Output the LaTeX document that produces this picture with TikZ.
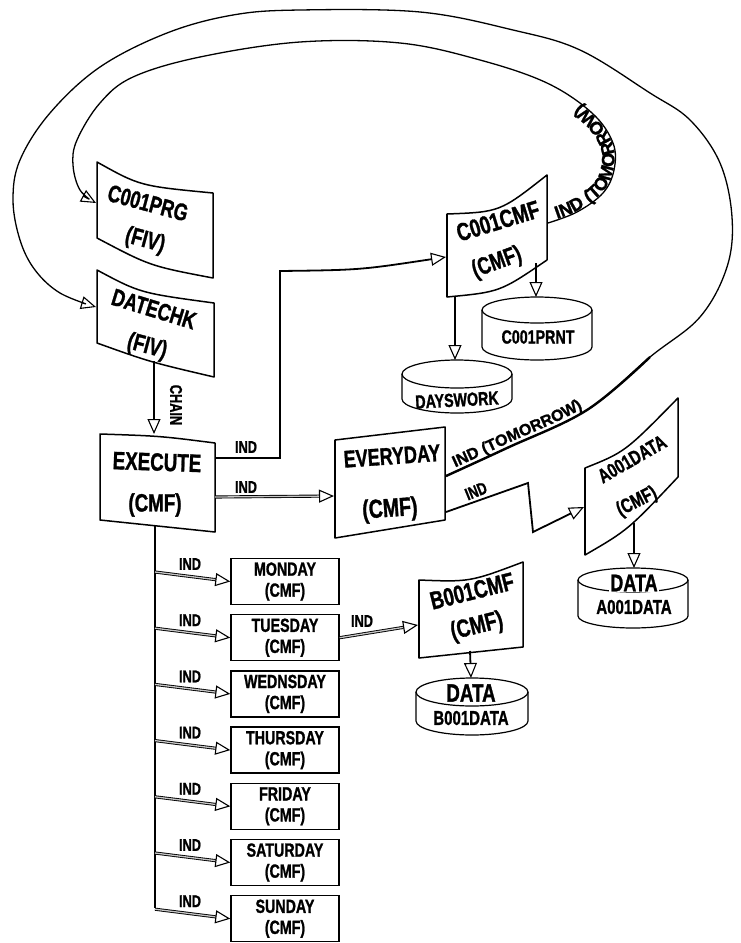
\documentclass[tikz,border=0pt]{standalone}
\usepackage{fontspec}
\setmainfont{Liberation Sans}[BoldFeatures={FakeBold=1.4}]
\newfontfamily\plainfont{Liberation Sans}[BoldFeatures={FakeBold=1.2}]
\usetikzlibrary{arrows.meta,decorations.text}
\newcommand\cond[1]{\scalebox{0.75}[1]{#1}}
\newcommand\diskshape[5]{%
  \draw[line width=1.2pt] (#1,#2) ellipse [x radius=#3pt, y radius=#4pt];
  \draw[line width=1.2pt] (#1-#3,#2) -- (#1-#3,#2+#5) arc[start angle=180,end angle=360,x radius=#3pt,y radius=#4pt] -- (#1+#3,#2);
}
\begin{document}
\begin{tikzpicture}[x=1pt,y=-1pt,
  >={Triangle[open,length=15pt,width=13pt,line width=1.1pt]},
  box/.style={line width=1.5pt,line join=round},
  thickedge/.style={line width=2.8pt},
  lbl/.style={font=\bfseries\fontsize{#1}{#1}\selectfont,inner sep=0pt},
  conn/.style={line width=1.8pt},
  hatch/.style={line width=0.9pt,double=gray!45,double distance=1.3pt},
  curve/.style={line width=1.3pt},
  daybox/.style={draw,line width=1.4pt,minimum width=108pt,minimum height=46pt,align=center,inner sep=0pt,font=\bfseries\fontsize{19}{21}\selectfont},
]
\useasboundingbox (0,0) rectangle (740,943);

% ---------- C001PRG ----------
\draw[box] (97,162) .. controls (140,186) .. (213,193) -- (213,278) .. controls (150,266) .. (97,238) -- cycle;
\node[lbl=24,rotate=-15] (prgname) at (148,203) {\cond{C001PRG}};
\node[lbl=24,rotate=-15] (prgtype) at (145,241) {\cond{(FIV)}};
\coordinate (p-w) at (96,203);

% ---------- DATECHK ----------
\draw[box] (97,270) .. controls (140,293) .. (214,303) -- (214,377) .. controls (150,362) .. (97,343) -- cycle;
\node[lbl=24,rotate=-17] (dcname) at (154,309) {\cond{DATECHK}};
\node[lbl=24,rotate=-15] (dctype) at (147,347) {\cond{(FIV)}};
\coordinate (dc-w) at (96,307);
\coordinate (dc-s) at (154,361);

% ---------- EXECUTE ----------
\draw[box] (100,434) .. controls (160,436) .. (215,443) -- (215,532) -- (100,520) -- cycle;
\node[lbl=25,rotate=-2] (exname) at (157,462) {\cond{EXECUTE}};
\node[lbl=25] (extype) at (155,505) {\cond{(CMF)}};
\coordinate (ex-n) at (154,434);
\coordinate (ex-e1) at (215,458);
\coordinate (ex-e2) at (215,497);
\coordinate (ex-s) at (155,526);
\coordinate (trunk-end) at (155,908);

% ---------- EVERYDAY ----------
\draw[box] (335,440) -- (445,427) -- (445,520) -- (335,538) -- cycle;
\draw[thickedge] (335,440) -- (335,538);
\node[lbl=24,rotate=4] (evname) at (392,456) {\cond{EVERYDAY}};
\node[lbl=26,rotate=4] (evtype) at (390,510) {\cond{(CMF)}};
\coordinate (ev-w) at (334,496);
\coordinate (ev-e1) at (446,476);
\coordinate (ev-e2) at (446,512);

% ---------- C001CMF ----------
\draw[box] (447,214) .. controls (500,212) .. (547,175) -- (547,260) .. controls (500,292) .. (447,297) -- cycle;
\draw[thickedge] (447,214) -- (447,297);
\node[lbl=25,rotate=17] (cmname) at (498,221) {\cond{C001CMF}};
\node[lbl=24,rotate=20] (cmtype) at (497,263) {\cond{(CMF)}};
\coordinate (cm-w) at (446,257);
\coordinate (cm-e) at (548,223);
\coordinate (cm-s1) at (455,296);
\coordinate (cm-s2) at (536,263);

% ---------- A001DATA ----------
\draw[box] (585,468) .. controls (625,452) .. (678,398) -- (678,477) .. controls (628,530) .. (585,555) -- cycle;
\draw[thickedge] (585,468) -- (585,555);
\node[lbl=20,rotate=30] (a1name) at (632,459) {\cond{A001DATA}};
\node[lbl=20,rotate=27] (a1type) at (637,502) {\cond{(CMF)}};
\coordinate (a1-w) at (584,507);
\coordinate (a1-s) at (634,523);

% ---------- B001CMF ----------
\draw[box] (419,580) .. controls (470,582) .. (523,562) -- (523,647) -- (419,658) -- cycle;
\draw[thickedge] (419,580) -- (419,658);
\node[lbl=25,rotate=14] (b1name) at (472,591) {\cond{B001CMF}};
\node[lbl=25,rotate=14] (b1type) at (477,627) {\cond{(CMF)}};
\coordinate (b1-w) at (418,625);
\coordinate (b1-s) at (470,651);

% ---------- disks ----------
\diskshape{457}{374}{55}{14}{25}
\node[lbl=19,rotate=3] (daysw) at (457,400) {\cond{DAYSWORK}};
\coordinate (daysw-n) at (455,360);

\diskshape{537}{310}{55}{13}{37}
\node[lbl=19] (prnt) at (538,337) {\cond{C001PRNT}};
\coordinate (prnt-n) at (536,297);

\diskshape{633}{580}{55}{12}{36}
\node[lbl=24,fill=white,inner sep=1pt] (adata) at (634,583) {\cond{DATA}};
\node[lbl=20] (aname) at (634,607) {\cond{A001DATA}};
\coordinate (ad-n) at (634,568);

\diskshape{472}{692}{56}{14}{29}
\node[lbl=25,fill=white,inner sep=1pt] (bdata) at (471,693) {\cond{DATA}};
\node[lbl=20] (bname) at (471,718) {\cond{B001DATA}};
\coordinate (bd-n) at (471,678);

% ---------- day boxes ----------
\draw[conn] (ex-s) -- (trunk-end);
\foreach \dayname [count=\i from 0] in {MONDAY,TUESDAY,WEDNSDAY,THURSDAY,FRIDAY,SATURDAY,SUNDAY}{
  \pgfmathsetmacro\T{558+56.2*\i}
  \node[daybox] (day\i) at (285,\T+23.5) {\cond{\dayname}\\\cond{(CMF)}};
  \coordinate (br\i) at (155,\T+14);
  \draw[hatch,->] (br\i) -- (day\i.west);
  \node[lbl=17] (ind\i) at (190,\T+6) {\cond{IND}};
}

% ---------- connectors ----------
\draw[conn,->] (dc-s) -- (ex-n);
\node[lbl=17,rotate=-90] (chain) at (176,405) {\cond{CHAIN}};

\draw[conn,->] (ex-e1) -- (280,458) -- (280,271) .. controls (360,270) .. (cm-w);
\node[lbl=17] (indx1) at (246,447) {\cond{IND}};

\draw[hatch,->] (ex-e2) -- (ev-w);
\node[lbl=17] (indx2) at (246,487) {\cond{IND}};

\draw[conn,->] (ev-e2) -- (528,483) -- (533,532) -- (a1-w);
\node[lbl=17,rotate=22] (indz) at (476,491) {\cond{IND}};

\draw[conn,->] (a1-s) -- (ad-n);
\draw[conn,->] (cm-s1) -- (daysw-n);
\draw[conn,->] (cm-s2) -- (prnt-n);

\draw[hatch,->] (day1.east) -- (b1-w);
\node[lbl=17] (indt) at (362,621) {\cond{IND}};
\draw[conn,->] (b1-s) -- (bd-n);

% ---------- outer loop: EVERYDAY -> DATECHK ----------
\draw[curve,->] plot[smooth,tension=0.6] coordinates {(ev-e1) (507,448) (587,410) (650,357) (700,317) (727,267) (732,217) (720,163) (690,120) (650,93) (580,50) (513,30) (420,12) (300,10) (233,15) (167,33) (100,67) (50,113) (20,160) (13,200) (20,240) (35,270) (60,293) (dc-w)};
\draw[line width=2.4pt] plot[smooth,tension=0.6] coordinates {(ev-e1) (507,448) (587,410) (650,357)};
\path[decorate,decoration={text along path,text={|\plainfont\bfseries\fontsize{16}{16}\selectfont|IND (TOMORROW)},raise=4pt,text align={left indent=12pt}}] plot[smooth,tension=0.6] coordinates {(ev-e1) (507,448) (587,410) (650,357) (700,317) (727,267) (732,217) (720,163) (690,120) (650,93) (580,50) (513,30) (420,12) (300,10) (233,15) (167,33) (100,67) (50,113) (20,160) (13,200) (20,240) (35,270) (60,293) (dc-w)};

% ---------- inner loop: C001CMF -> C001PRG ----------
\draw[curve,->] plot[smooth,tension=0.6] coordinates {(cm-e) (577,212) (603,193) (614,170) (613,143) (592,113) (547,83) (480,60) (400,43) (300,42) (200,57) (133,77) (100,103) (77,140) (73,165) (80,190) (p-w)};
\path[decorate,decoration={text along path,text={|\plainfont\bfseries\fontsize{18}{18}\selectfont|IND (TOMORROW)},raise=1pt,text align={left indent=10pt}}] plot[smooth,tension=0.6] coordinates {(cm-e) (577,212) (603,193) (614,170) (613,143) (592,113) (547,83) (480,60) (400,43) (300,42) (200,57) (133,77) (100,103) (77,140) (73,165) (80,190) (p-w)};

\end{tikzpicture}
\end{document}
